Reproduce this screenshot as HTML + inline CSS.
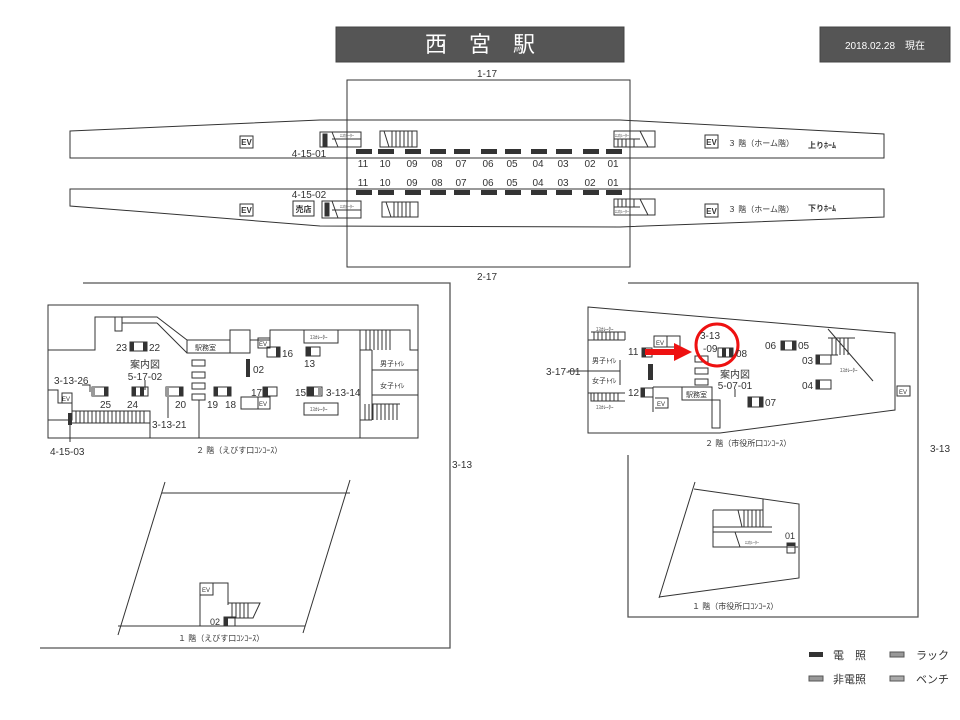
<!DOCTYPE html>
<html><head><meta charset="utf-8"><style>
html,body{margin:0;padding:0;background:#fff;}
svg{display:block}
text{font-family:"Liberation Sans","Noto Sans CJK JP",sans-serif;fill:#333}
</style></head><body>
<svg width="960" height="720" viewBox="0 0 960 720" xmlns="http://www.w3.org/2000/svg">
<g fill="none" stroke="#333" stroke-width="1">
<!-- title -->
<rect x="336" y="27" width="288" height="35" fill="#555" stroke="#444"/>
<rect x="820" y="27" width="130" height="35" fill="#555" stroke="#444"/>
<!-- platforms -->
<polygon points="70,131 320,120 620,120 884,134 884,158 70,158" fill="#fff"/>
<polygon points="70,189 884,189 884,217 620,227 320,226 70,206" fill="#fff"/>
<rect x="347" y="80" width="283" height="187"/>
<!-- upper platform items -->
<rect x="240" y="136" width="13" height="12"/>
<rect x="320" y="132" width="41" height="15"/><rect x="323" y="134" width="4" height="12" fill="#333"/>
<line x1="332" y1="132" x2="338" y2="147"/><line x1="332" y1="139" x2="361" y2="139"/>
<rect x="380" y="131" width="37" height="16"/>
<path d="M384,131 L389,147 M392,131V147 M396,131V147 M400,131V147 M404,131V147 M408,131V147 M412,131V147"/>
<rect x="614" y="131" width="41" height="16"/><path d="M614,139H640 M640,131 L648,147 M618,139V147 M622,139V147 M626,139V147 M630,139V147 M634,139V147"/>
<rect x="705" y="135" width="13" height="13"/>
<!-- lower -->
<rect x="240" y="204" width="13" height="12"/>
<rect x="293" y="201" width="21" height="15"/>
<rect x="322" y="201" width="39" height="17"/><rect x="325" y="203" width="4" height="13" fill="#333"/>
<line x1="332" y1="201" x2="338" y2="218"/><line x1="332" y1="210" x2="361" y2="210"/>
<rect x="382" y="202" width="36" height="15"/>
<path d="M386,202 L391,217 M394,202V217 M398,202V217 M402,202V217 M406,202V217 M410,202V217"/>
<rect x="614" y="199" width="41" height="16"/><path d="M614,207H640 M640,199 L648,215 M618,199V207 M622,199V207 M626,199V207 M630,199V207 M634,199V207"/>
<rect x="705" y="204" width="13" height="13"/>
</g>
<g fill="#333">
<rect x="356" y="149" width="16" height="5"/><rect x="378" y="149" width="16" height="5"/><rect x="405" y="149" width="16" height="5"/><rect x="430" y="149" width="16" height="5"/><rect x="454" y="149" width="16" height="5"/><rect x="481" y="149" width="16" height="5"/><rect x="505" y="149" width="16" height="5"/><rect x="531" y="149" width="16" height="5"/><rect x="556" y="149" width="16" height="5"/><rect x="583" y="149" width="16" height="5"/><rect x="606" y="149" width="16" height="5"/>
<rect x="356" y="190" width="16" height="5"/><rect x="378" y="190" width="16" height="5"/><rect x="405" y="190" width="16" height="5"/><rect x="430" y="190" width="16" height="5"/><rect x="454" y="190" width="16" height="5"/><rect x="481" y="190" width="16" height="5"/><rect x="505" y="190" width="16" height="5"/><rect x="531" y="190" width="16" height="5"/><rect x="556" y="190" width="16" height="5"/><rect x="583" y="190" width="16" height="5"/><rect x="606" y="190" width="16" height="5"/>
</g>
<g font-size="10" text-anchor="middle">
<text x="363" y="167">11</text><text x="385" y="167">10</text><text x="412" y="167">09</text><text x="437" y="167">08</text><text x="461" y="167">07</text><text x="488" y="167">06</text><text x="512" y="167">05</text><text x="538" y="167">04</text><text x="563" y="167">03</text><text x="590" y="167">02</text><text x="613" y="167">01</text>
<text x="363" y="186">11</text><text x="385" y="186">10</text><text x="412" y="186">09</text><text x="437" y="186">08</text><text x="461" y="186">07</text><text x="488" y="186">06</text><text x="512" y="186">05</text><text x="538" y="186">04</text><text x="563" y="186">03</text><text x="590" y="186">02</text><text x="613" y="186">01</text>
<text x="487" y="77">1-17</text><text x="487" y="280">2-17</text>
<text x="309" y="157">4-15-01</text><text x="309" y="198">4-15-02</text>
</g>
<g font-size="8" font-weight="bold" text-anchor="middle">
<text x="246.5" y="145">EV</text><text x="246.5" y="213">EV</text><text x="711.5" y="145">EV</text><text x="711.5" y="214">EV</text>
<text x="303.5" y="212">売店</text>
</g>
<g font-size="8" text-anchor="start">
<text x="728" y="146">３ 階（ホーム階）</text><text x="728" y="212">３ 階（ホーム階）</text>
<text x="808" y="148" font-weight="bold">上りﾎｰﾑ</text><text x="808" y="211" font-weight="bold">下りﾎｰﾑ</text>
</g>
<g font-size="4" fill="#333"><text x="340" y="137">ｴｽｶﾚｰﾀｰ</text><text x="340" y="208">ｴｽｶﾚｰﾀｰ</text><text x="615" y="137">ｴｽｶﾚｰﾀｰ</text><text x="615" y="213">ｴｽｶﾚｰﾀｰ</text></g>

<!-- outer boxes -->
<g fill="none" stroke="#555" stroke-width="1.3">
<polyline points="83,283 450,283 450,648 40,648"/>
<polyline points="628,283 918,283 918,617 628,617 628,455"/>
</g>
<g font-size="10" fill="#333"><text x="452" y="468">3-13</text><text x="930" y="452">3-13</text></g>

<!-- left 2F -->
<g fill="none" stroke="#333" stroke-width="1">
<rect x="48" y="305" width="370" height="133"/>
<polyline points="48,350 95,350 95,317 157,317 187,340 230,340"/>
<polyline points="157,323 187,353 230,353"/>
<rect x="115" y="317" width="7" height="14"/><line x1="122" y1="323" x2="157" y2="323"/>
<rect x="187" y="340" width="43" height="13"/>
<rect x="230" y="330" width="20" height="23"/>
<polyline points="250,340 270,340 270,330 360,330 360,438"/>
<rect x="304" y="330" width="34" height="13"/><rect x="304" y="403" width="34" height="12"/>
<rect x="258" y="338" width="12" height="10"/>
<rect x="241" y="397" width="17" height="12"/><rect x="258" y="397" width="12" height="12"/>
<path d="M360,330H400 M366,330V350 M370,330V350 M374,330V350 M378,330V350 M382,330V350 M386,330V350 M390,330V350 M360,350H372 M372,350V420 M372,420H360 M372,395H418 M372,370H418 M400,330H410 V350 H418"/>
<path d="M365,404V420 M369,404V420 M373,404V420 M377,404V420 M381,404V420 M385,404V420 M389,404V420 M393,404V420 M397,404V420 M372,404H400"/>
<path d="M48,390H58V403H72V420H48"/><rect x="62" y="393" width="10" height="10"/>
<path d="M72,411H150V438 M72,423H150 M76,411V423 M80,411V423 M84,411V423 M88,411V423 M92,411V423 M96,411V423 M100,411V423 M104,411V423 M108,411V423 M112,411V423 M116,411V423 M120,411V423 M124,411V423 M128,411V423 M132,411V423 M136,411V423 M140,411V423 M144,411V423"/>
<line x1="70" y1="425" x2="70" y2="442"/>
<line x1="199" y1="400" x2="199" y2="438"/>
<line x1="168" y1="397" x2="168" y2="418"/>
<line x1="145" y1="380" x2="145" y2="390"/>
<polyline points="82,385 90,385 90,392"/>
<rect x="192" y="360" width="13" height="6"/><rect x="192" y="372" width="13" height="6"/><rect x="192" y="383" width="13" height="6"/><rect x="192" y="394" width="13" height="6"/>
<!-- fixtures -->
<rect x="130" y="342" width="17" height="9"/><rect x="92" y="387" width="16" height="9"/><rect x="132" y="387" width="16" height="9"/><rect x="166" y="387" width="17" height="9"/><rect x="214" y="387" width="17" height="9"/><rect x="263" y="387" width="14" height="9"/><rect x="307" y="387" width="15" height="9"/><rect x="267" y="347" width="13" height="10"/><rect x="306" y="347" width="14" height="9"/>
</g>
<g fill="#333">
<rect x="130" y="342" width="4" height="9"/><rect x="143" y="342" width="4" height="9"/>
<rect x="104" y="387" width="4" height="9"/><rect x="92" y="387" width="3" height="9" fill="#999"/>
<rect x="140" y="387" width="4" height="9"/><rect x="132" y="387" width="4" height="9"/>
<rect x="179" y="387" width="4" height="9"/><rect x="166" y="387" width="3" height="9" fill="#999"/>
<rect x="214" y="387" width="4" height="9"/><rect x="227" y="387" width="4" height="9"/>
<rect x="263" y="387" width="5" height="9"/>
<rect x="307" y="387" width="7" height="9"/><rect x="318" y="387" width="3" height="9" fill="#999"/>
<rect x="276" y="347" width="4" height="10"/><rect x="306" y="347" width="5" height="9"/>
<rect x="246" y="359" width="4" height="18"/>
<rect x="68" y="413" width="4" height="12"/>
</g>
<g font-size="10" fill="#333">
<text x="116" y="351">23</text><text x="149" y="351">22</text>
<text x="145" y="368" text-anchor="middle">案内図</text><text x="145" y="380" text-anchor="middle">5-17-02</text>
<text x="54" y="384" fill="#999">3-13-26</text>
<text x="100" y="408">25</text><text x="127" y="408">24</text><text x="175" y="408">20</text><text x="207" y="408">19</text><text x="225" y="408">18</text>
<text x="152" y="428" fill="#999">3-13-21</text>
<text x="253" y="373">02</text><text x="251" y="396">17</text><text x="282" y="357">16</text><text x="304" y="367">13</text>
<text x="295" y="396">15</text><text x="326" y="396" fill="#999">3-13-14</text>
<text x="50" y="455">4-15-03</text>
</g>
<g font-size="7" fill="#333">
<text x="195" y="350">駅務室</text><text x="380" y="366">男子ﾄｲﾚ</text><text x="380" y="388">女子ﾄｲﾚ</text>
<text x="62" y="401" font-size="6">EV</text><text x="259" y="346" font-size="6">EV</text><text x="259" y="406" font-size="6">EV</text>
<text x="310" y="339" font-size="5">ｴｽｶﾚｰﾀｰ</text><text x="310" y="411" font-size="5">ｴｽｶﾚｰﾀｰ</text>
<text x="196" y="453" font-size="8">２ 階（えびす口ｺﾝｺｰｽ）</text>
</g>

<!-- left 1F -->
<g fill="none" stroke="#333">
<path d="M165,482 L118,635 M350,480 L303,633 M162,493H350 M118,626H305"/>
<path d="M200,626V583H228V605 M228,603H260L253,618H228 M232,603V618 M236,603V618 M240,603V618 M244,603V618 M248,603V618"/>
<rect x="200" y="583" width="13" height="12"/>
<rect x="224" y="617" width="11" height="9"/>
</g>
<rect x="224" y="617" width="4" height="9" fill="#333"/>
<g fill="#333"><text x="210" y="625" font-size="9">02</text><text x="202" y="592" font-size="6">EV</text>
<text x="178" y="641" font-size="8">１ 階（えびす口ｺﾝｺｰｽ）</text></g>

<!-- right 2F -->
<g fill="none" stroke="#333">
<polygon points="588,307 895,333 895,410 720,433 588,433"/>
<path d="M588,340H625 M591,332H625V340 M594,332V340 M598,332V340 M602,332V340 M606,332V340 M610,332V340 M614,332V340 M618,332V340"/>
<path d="M588,393H625 M591,393V401H625 M594,393V401 M598,393V401 M602,393V401 M606,393V401 M610,393V401 M614,393V401 M618,393V401"/>
<rect x="654" y="336" width="26" height="11"/><rect x="654" y="336" width="13" height="11"/>
<line x1="583" y1="371" x2="620" y2="371"/><line x1="620" y1="360" x2="620" y2="385"/>
<line x1="568" y1="371" x2="583" y2="371"/>
<path d="M653,387H682V387 M653,387V412 M655,398H668V408H655"/>
<rect x="682" y="387" width="30" height="13"/><rect x="712" y="400" width="8" height="28"/>
<line x1="712" y1="387" x2="712" y2="428"/>
<rect x="695" y="356" width="13" height="6"/><rect x="695" y="368" width="13" height="6"/><rect x="695" y="379" width="13" height="6"/>
<path d="M828,329L873,381 M828,338H855 M828,355H838 M832,338V355 M836,338V355 M840,338V355 M844,338V355 M848,338V355"/>
<line x1="735" y1="389" x2="735" y2="397"/>
<rect x="897" y="386" width="13" height="10"/>
<rect x="642" y="348" width="10" height="9"/><rect x="718" y="348" width="15" height="9"/><rect x="748" y="397" width="15" height="10"/><rect x="781" y="341" width="15" height="9"/><rect x="816" y="355" width="15" height="9"/><rect x="816" y="380" width="15" height="9"/><rect x="641" y="388" width="12" height="9"/>
</g>
<g fill="#333">
<rect x="642" y="348" width="4" height="9"/><rect x="722" y="348" width="4" height="9"/><rect x="729" y="348" width="4" height="9"/><rect x="748" y="397" width="4" height="10"/><rect x="759" y="397" width="4" height="10"/><rect x="781" y="341" width="4" height="9"/><rect x="792" y="341" width="4" height="9"/><rect x="816" y="355" width="4" height="9"/><rect x="816" y="380" width="4" height="9"/><rect x="641" y="388" width="4" height="9"/>
<rect x="648" y="364" width="5" height="16"/>
</g>
<path d="M645,349H674V343L692,352L674,361V355H645Z" fill="#e11"/>
<circle cx="717" cy="345" r="21" fill="none" stroke="#e11" stroke-width="3"/>
<g font-size="10" fill="#333">
<text x="700" y="339">3-13</text><text x="703" y="352">-09</text>
<text x="736" y="357">08</text><text x="628" y="355">11</text><text x="628" y="396">12</text>
<text x="735" y="378" text-anchor="middle">案内図</text><text x="735" y="389" text-anchor="middle">5-07-01</text>
<text x="765" y="406">07</text><text x="765" y="349">06</text><text x="798" y="349">05</text><text x="802" y="364">03</text><text x="802" y="389">04</text>
<text x="546" y="375">3-17-01</text>
</g>
<g font-size="7" fill="#333">
<text x="592" y="363">男子ﾄｲﾚ</text><text x="592" y="383">女子ﾄｲﾚ</text><text x="686" y="397">駅務室</text>
<text x="656" y="345" font-size="6">EV</text><text x="657" y="406" font-size="6">EV</text><text x="899" y="394" font-size="6">EV</text>
<text x="596" y="331" font-size="5">ｴｽｶﾚｰﾀｰ</text><text x="596" y="409" font-size="5">ｴｽｶﾚｰﾀｰ</text><text x="840" y="372" font-size="5">ｴｽｶﾚｰﾀｰ</text>
<text x="705" y="446" font-size="8">２ 階（市役所口ｺﾝｺｰｽ）</text>
</g>

<!-- right 1F -->
<g fill="none" stroke="#333">
<path d="M695,482L659,598 M694,489L799,504V578L659,597 M763,499V510 M713,510H763V527 M713,510V547H798 M713,527H772 M713,532H772 M738,510L742,527 M735,532L740,547 M744,510V527 M748,510V527 M752,510V527 M756,510V527 M760,510V527"/>
<rect x="787" y="543" width="8" height="10"/>
</g>
<rect x="787" y="543" width="8" height="3" fill="#333"/>
<g fill="#333"><text x="785" y="539" font-size="9">01</text><text x="745" y="544" font-size="4">ｴｽｶﾚｰﾀｰ</text>
<text x="692" y="609" font-size="8">１ 階（市役所口ｺﾝｺｰｽ）</text></g>

<!-- legend -->
<rect x="809" y="652" width="14" height="5" fill="#333"/>
<rect x="890" y="652" width="14" height="5" fill="#999" stroke="#555"/>
<rect x="809" y="676" width="14" height="5" fill="#999" stroke="#555"/>
<rect x="890" y="676" width="14" height="5" fill="#aaa" stroke="#555"/>
<g font-size="11"><text x="833" y="659" fill="#555">電　照</text><text x="916" y="659" fill="#aaa">ラック</text>
<text x="833" y="683" fill="#aaa">非電照</text><text x="916" y="683" fill="#aaa">ベンチ</text></g>

<text x="480" y="52" font-size="22" fill="#fff" text-anchor="middle" style="fill:#fff">西　宮　駅</text>
<text x="885" y="49" font-size="10" text-anchor="middle" style="fill:#fff">2018.02.28　現在</text>
</svg>
</body></html>
